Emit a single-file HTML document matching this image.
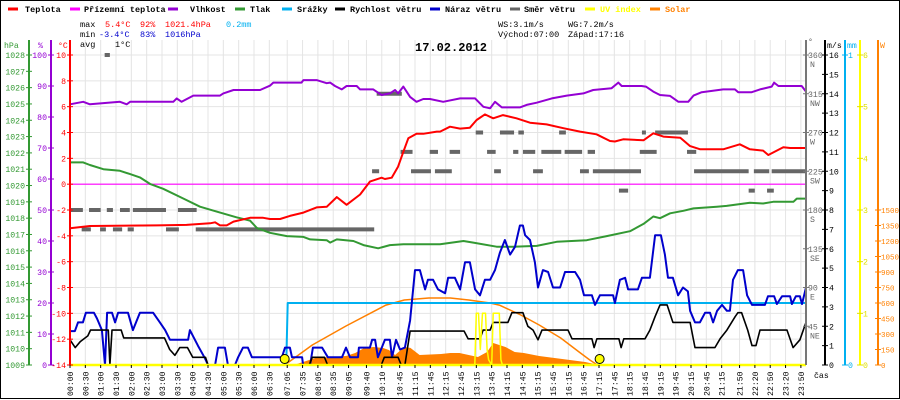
<!DOCTYPE html>
<html><head><meta charset="utf-8">
<style>
html,body{margin:0;padding:0;background:#fff;}
svg{display:block;font-family:"Liberation Mono",monospace;}
</style></head>
<body>
<svg id="chart" width="900" height="400" viewBox="0 0 900 400" xmlns="http://www.w3.org/2000/svg">
<rect x="0.5" y="0.5" width="899" height="398" fill="#fff" stroke="#000" stroke-width="1"/>
<g id="grid"></g>
<g id="series"></g>
<g id="axes"></g>
<g id="legend" font-size="8.5" font-weight="bold"></g>
<g id="stats" font-size="8.5">
<text x="80" y="27">max</text>
<text x="105" y="27" fill="#ff0000">5.4°C</text>
<text x="140" y="27" fill="#ff0000">92%</text>
<text x="165" y="27" fill="#ff0000">1021.4hPa</text>
<text x="226" y="27" fill="#00b0f0">0.2mm</text>
<text x="80" y="37">min</text>
<text x="99" y="37" fill="#0000cc">-3.4°C</text>
<text x="140" y="37" fill="#0000cc">83%</text>
<text x="165" y="37" fill="#0000cc">1016hPa</text>
<text x="80" y="47">avg</text>
<text x="115" y="47">1°C</text>
<text x="498" y="27">WS:3.1m/s</text>
<text x="568" y="27">WG:7.2m/s</text>
<text x="498" y="37">Východ:07:00</text>
<text x="568" y="37">Západ:17:16</text>
<text x="415" y="51" font-size="12" font-weight="bold">17.02.2012</text>
</g>
</svg>
<script>
// ---- data (time in hours) ----
const tempT=[0,0.65,2.83,3.8,4.57,4.73,4.89,5.11,5.33,5.87,6.3,6.52,6.85,7.17,7.61,8.04,8.37,8.7,9.02,9.46,9.78,10.16,10.27,10.49,10.7,10.87,11.03,11.3,11.52,11.96,12.07,12.39,12.72,13.04,13.26,13.53,13.8,14.12,14.56,15.0,15.54,16.09,16.63,17.17,17.61,17.77,18.04,18.7,19.02,19.35,19.9,20.22,20.55,21.3,21.84,22.17,22.6,22.77,23.26,23.48,24];
const tempV=[-3.42,-3.24,-3.19,-3.15,-3.03,-2.95,-3.19,-3.19,-2.9,-2.6,-2.6,-2.7,-2.7,-2.46,-2.2,-1.8,-1.75,-1.0,-1.6,-0.8,0.2,0.5,0.4,0.5,1.36,2.5,3.55,3.9,3.9,4.07,4.07,4.45,4.3,4.37,4.97,5.4,5.1,5.35,5.1,4.76,4.63,4.33,4.07,3.86,3.34,3.3,3.47,3.4,3.94,3.68,3.6,2.95,2.7,2.7,3.09,2.7,2.6,2.26,2.86,2.8,2.8];
const feelT=[0,24];
const feelV=[0,0];
const humT=[0,0.43,0.65,1.63,1.85,1.96,3.37,3.48,3.64,4.02,4.89,5.0,5.33,6.2,6.52,6.63,7.55,7.61,8.04,8.37,8.48,8.64,8.86,9.02,9.35,9.46,9.89,10.16,10.43,10.6,10.7,10.87,11.09,11.3,11.52,11.74,12.17,12.72,13.21,13.48,13.7,13.86,14.08,14.67,14.89,15.22,15.71,16.2,16.74,17.06,17.66,17.88,17.99,18.64,18.78,19.02,19.24,19.57,19.84,20.16,20.33,20.6,21.3,21.68,21.79,22.23,22.5,22.88,22.96,23.1,23.86,24];
const humV=[84.1,84.9,84.1,84.9,84.1,84.9,84.9,86.0,84.9,86.9,86.9,87.6,88.7,88.7,90.1,91.1,91.1,91.9,91.9,90.9,91.1,90.0,88.9,90.0,90.0,88.9,88.9,87.1,87.6,88.7,87.6,89.8,86.5,84.9,85.8,85.8,84.9,86.0,86.0,83.3,82.8,84.9,83.1,83.1,83.9,84.6,86.0,86.9,87.6,88.7,89.3,91.1,90.0,90.0,89.8,88.2,87.1,86.8,84.9,84.9,86.9,88.0,88.9,88.9,88.0,88.0,88.9,89.8,91.1,90.0,90.0,88.2];
const pressT=[0,0.43,0.65,1.09,1.63,1.96,2.28,2.61,3.04,3.7,4.24,4.78,5.43,5.87,6.09,6.52,7.07,7.61,7.83,8.37,8.48,8.7,9.24,9.57,10.05,10.43,10.87,12.07,12.83,13.15,13.91,14.45,15.22,15.87,16.85,17.5,18.26,18.7,19.02,19.24,19.57,20.0,20.33,21.09,21.41,22.17,22.6,22.93,23.59,23.7,24];
const pressV=[1021.42,1021.42,1021.26,1021.0,1020.9,1020.7,1020.5,1020.1,1019.8,1019.2,1018.7,1018.4,1018.05,1017.85,1017.4,1017.1,1016.9,1016.85,1016.7,1016.65,1016.5,1016.7,1016.6,1016.35,1016.15,1016.35,1016.4,1016.4,1016.6,1016.5,1016.25,1016.25,1016.3,1016.55,1016.65,1016.9,1017.2,1017.65,1018.1,1018.0,1018.3,1018.45,1018.6,1018.7,1018.75,1018.95,1018.9,1019.0,1019.0,1019.2,1019.2];
const rainT=[0,7.05,7.1,24];
const rainV=[0,0,0.2,0.2];
const windT=[0,0.17,0.33,0.58,0.67,1.25,1.3,1.37,1.67,1.75,3.08,3.25,3.42,3.58,3.83,4.0,4.42,4.5,7.8,7.9,8.3,8.4,10.15,10.25,10.7,10.8,10.92,11.09,12.85,12.98,13.37,13.47,13.7,13.8,14.28,14.41,14.77,14.93,15.1,15.26,15.39,16.24,16.37,17.02,17.09,17.18,17.9,17.97,18.06,18.75,18.91,19.08,19.24,19.47,19.66,20.22,20.38,21.03,21.2,21.42,21.69,21.78,21.9,22.1,22.24,22.37,22.5,23.38,23.58,23.8,24];
const windV=[1.3,0.9,1.2,1.5,1.8,1.8,0,1.8,1.8,1.4,1.4,0.8,0.5,0.9,0.9,0.4,0.4,0,0,0.4,0.4,0,0,0.4,0.4,0,0,1.75,1.75,1.35,1.35,1.8,1.8,2.2,2.2,2.7,2.7,2.0,1.8,1.3,1.8,1.8,1.35,1.35,0.9,1.35,1.35,0.9,1.35,1.35,1.8,2.5,3.1,3.1,2.2,2.2,0.9,0.9,1.35,1.8,2.5,2.7,2.7,1.8,1.0,1.0,1.8,1.8,0.9,1.3,2.2];
const gustT=[0,0.16,0.26,0.42,0.52,0.78,0.88,1.04,1.14,1.21,1.37,1.47,1.57,1.89,2.05,2.28,2.71,2.93,3.1,3.26,3.85,3.91,4.17,4.4,4.5,4.73,4.83,5.05,5.15,5.38,5.48,5.64,5.8,5.93,6.91,7.01,7.17,7.24,7.57,7.6,7.83,7.92,8.22,8.41,8.87,9.0,9.13,9.39,9.42,9.78,9.85,9.95,10.04,10.27,10.43,10.5,10.63,10.76,10.92,11.09,11.25,11.41,11.58,11.67,11.84,12.0,12.23,12.33,12.55,12.72,12.88,13.04,13.21,13.37,13.53,13.7,13.86,14.02,14.18,14.35,14.51,14.67,14.77,14.84,15.0,15.16,15.26,15.42,15.59,15.75,15.98,16.14,16.47,16.63,16.76,17.02,17.12,17.28,17.71,17.77,17.93,18.1,18.2,18.52,18.65,18.91,19.08,19.27,19.4,19.5,19.66,19.83,19.99,20.15,20.22,20.38,20.54,20.71,20.87,20.97,21.1,21.26,21.42,21.52,21.62,21.78,21.95,22.08,22.24,22.66,22.76,22.96,23.05,23.22,23.48,23.54,23.67,23.8,23.87,24];
const gustV=[1.75,1.75,2.2,2.2,2.7,2.7,2.4,1.8,0,2.7,2.7,2.2,2.7,2.7,1.8,2.7,2.7,2.2,1.8,1.3,1.3,1.8,1.0,0.35,0,0,0.9,0.9,0,0,0.4,0.9,0.9,0.4,0.4,0.9,0.9,0.4,0.4,0,0,0.9,0.9,0.4,0.4,0.9,0.4,0.4,0.9,0.9,1.3,1.3,0.4,1.3,1.3,0.4,1.3,0.8,0.9,2.3,4.9,4.9,3.9,4.4,4.4,3.9,3.7,4.5,4.5,3.9,5.3,5.3,3.9,3.6,4.4,4.4,4.9,5.8,6.45,5.7,6.1,7.2,7.2,6.7,6.45,5.3,4.0,4.9,4.8,4.0,4.0,4.8,4.8,4.4,3.6,3.6,3.1,3.6,3.6,3.2,4.4,4.5,3.9,3.9,4.5,4.5,6.7,6.7,5.7,4.5,4.5,3.6,4.0,3.8,2.8,2.2,2.2,2.7,2.7,2.2,2.8,3.1,2.8,2.8,4.4,4.9,4.9,3.6,3.1,3.1,3.55,3.55,3.15,3.55,3.55,3.15,3.55,3.55,3.15,4.0];
// direction segments: start hour, end hour, degrees
const dirStart=[0,0.62,1.2,1.63,2.05,3.52,0.38,0.98,1.4,1.88,3.13,4.1,1.13,10.0,10.78,11.73,12.38,13.6,14.45,14.77,15.37,16.13,16.88,18.58,20.12,9.85,11.12,11.9,13.83,15.1,16.63,17.05,20.35,22.3,22.88,13.23,14.02,14.62,15.95,18.65,19.08,17.9,22.13,22.73];
const dirEnd=[0.42,1.0,1.4,1.95,3.13,4.13,0.68,1.17,1.7,2.08,3.55,9.92,1.3,10.82,11.17,12.0,12.72,13.88,14.62,15.17,16.02,16.7,17.12,19.13,20.42,10.08,11.77,12.45,14.05,15.42,16.92,18.62,22.13,22.8,24.0,13.47,14.48,14.8,16.17,18.78,20.15,18.2,22.33,22.95];
const dirV=[180,180,180,180,180,180,157.5,157.5,157.5,157.5,157.5,157.5,360,315,247.5,247.5,247.5,247.5,247.5,247.5,247.5,247.5,247.5,247.5,247.5,225,225,225,225,225,225,225,225,225,225,270,270,270,270,270,270,202.5,202.5,202.5];
const solarT=[7.3,7.6,8.0,8.5,9.0,9.3,9.6,9.9,10.2,10.4,10.6,10.9,11.1,11.4,12.1,12.4,12.7,13.0,13.3,13.6,13.8,14.0,14.2,14.5,14.8,15.3,15.8,16.3,16.8,17.1,17.3];
const solarV=[0,29,68,77,87,116,165,174,165,145,97,174,165,97,106,116,116,97,77,126,213,194,174,126,116,87,68,48,29,10,0];
const solarMaxT=[7.0,7.9,9.0,10.3,10.9,11.7,12.4,13.0,13.7,14.0,14.7,15.3,16.0,16.6,16.95,17.2];
const solarMaxV=[0,194,377,580,629,648,648,629,600,580,484,387,261,126,48,0];
const uvT=[13.2,13.25,13.32,13.38,13.45,13.55,13.6,13.65,13.75,13.8,14.0,14.05,14.1];
const uvV=[0,1,1,0.3,1,1,0.3,0.1,0,1,1,0.1,0];
const sunT=[7.0,17.27];
const xLabels=["00:00","00:30","01:00","01:30","02:00","02:30","03:00","03:30","04:00","04:30","05:00","05:30","06:00","06:30","07:05","07:35","08:05","08:35","09:05","09:40","10:10","10:45","11:15","11:45","12:15","12:45","13:15","13:45","14:15","14:45","15:15","15:45","16:15","16:45","17:15","17:45","18:15","18:45","19:15","19:45","20:15","20:45","21:15","21:50","22:20","22:50","23:20","23:50"];
const hpaTicks=[1009,1010,1011,1012,1013,1014,1015,1016,1017,1018,1019,1020,1021,1022,1023,1024,1025,1026,1027,1028];
const humTicks=[0,10,20,30,40,50,60,70,80,90,100];
const tempTicks=[-14,-12,-10,-8,-6,-4,-2,0,2,4,6,8,10];
const dirTicks=[45,90,135,180,225,270,315,360];
const dirNames=["NE","E","SE","S","SW","W","NW","N"];
const msTicks=[0,1,2,3,4,5,6,7,8,9,10,11,12,13,14,15,16];
const mmTicks=[0,1];
const uvTicks=[0,1,2,3,4,5,6];
const wTicks=[0,150,300,450,600,750,900,1050,1200,1350,1500];

// ---- scales ----
const X0=70,X1=806,YB=365,YT=55;
const xOf=h=>X0+h*(X1-X0)/24;
const yTemp=t=>YT+(10-t)*(YB-YT)/24;
const yPress=p=>YT+(1028-p)*(YB-YT)/19;
const yHum=v=>YB-v*(YB-YT)/100;
const yWind=v=>YB-v*(YB-YT)/16;
const yDir=d=>YB-d*(YB-YT)/360;
const yRain=v=>YB-v*(YB-YT)/1;
const yUV=v=>YB-v*(YB-YT)/6;
const ySol=v=>YB-v*155/1500;

const NS="http://www.w3.org/2000/svg";
function mk(tag,parent,attrs){const e=document.createElementNS(NS,tag);for(const k in attrs)e.setAttribute(k,attrs[k]);parent.appendChild(e);return e;}
const G=document.getElementById('grid'),S=document.getElementById('series'),A=document.getElementById('axes'),L=document.getElementById('legend');
const toH=s=>{const p=s.split(':');return +p[0]+(+p[1])/60;};

// grid
tempTicks.forEach(t=>{const l=mk('line',G,{x1:X0,x2:X1,y1:yTemp(t),y2:yTemp(t),stroke:'#e4e4e4','stroke-width':1});

});
xLabels.forEach(s=>{const x=xOf(toH(s));const l=mk('line',G,{x1:x,x2:x,y1:40,y2:YB,stroke:'#e4e4e4','stroke-width':1});

});

function poly(T,V,yf,color,w,name){const pts=T.map((t,i)=>xOf(t).toFixed(1)+','+yf(V[i]).toFixed(1)).join(' ');
const p=mk('polyline',S,{points:pts,fill:'none',stroke:color,'stroke-width':w,'stroke-linejoin':'round'});

return p;}

// solar area
{const pts=[xOf(solarT[0])+','+YB].concat(solarT.map((t,i)=>xOf(t).toFixed(1)+','+ySol(solarV[i]).toFixed(1))).concat([xOf(solarT[solarT.length-1])+','+YB]).join(' ');
const p=mk('polygon',S,{points:pts,fill:'#ff8000',stroke:'none'});

}
poly(solarMaxT,solarMaxV,ySol,'#ff8000',1.5,'solar-max-line');
// direction
dirV.forEach((d,i)=>{const r=mk('rect',S,{x:xOf(dirStart[i]),y:yDir(d)-2,width:Math.max(3,xOf(dirEnd[i])-xOf(dirStart[i])),height:4,fill:'#666'});

});
poly(feelT,feelV,yTemp,'#ff00ff',1.2,'apparent-temperature-line');
poly(pressT,pressV,yPress,'#339933',2,'pressure-line');
poly(humT,humV,yHum,'#9400d3',2,'humidity-line');
poly(tempT,tempV,yTemp,'#ff0000',2,'temperature-line');
poly(rainT,rainV,yRain,'#00b0f0',2,'rain-line');
poly(gustT,gustV,yWind,'#0000cc',2,'wind-gust-line');
poly(windT,windV,yWind,'#000',1.6,'wind-speed-line');
poly(uvT,uvV,yUV,'#ffff00',1.5,'uv-index-line');
{const b=mk('line',S,{x1:X0,x2:X1,y1:YB,y2:YB,stroke:'#ffff00','stroke-width':2.5});

}
sunT.forEach((t,i)=>{const c=mk('circle',S,{cx:xOf(t),cy:YB-6,r:4.5,fill:'#ffff00',stroke:'#000','stroke-width':1});

});

// axes
const FS=8.2;
function vaxis(x,y1,color,name){const l=mk('line',A,{x1:x,x2:x,y1:y1,y2:YB,stroke:color,'stroke-width':2});

}
function tick(x,y,color){mk('line',A,{x1:x-3,x2:x+3,y1:y,y2:y,stroke:color,'stroke-width':1});}
function label(txt,x,y,color,anchor,name){const t=mk('text',A,{x:x,y:y,fill:color,'font-size':FS,'text-anchor':anchor});t.textContent=txt;

return t;}
vaxis(29,40,'#339933','pressure-axis');
vaxis(51,40,'#9400d3','humidity-axis');
vaxis(70,40,'#ff0000','temperature-axis');
vaxis(806,40,'#777','direction-axis');
vaxis(825,40,'#000','wind-axis');
vaxis(845,40,'#00b0f0','rain-axis');
vaxis(860,40,'#ffff00','uv-axis');
vaxis(878,40,'#ff8000','solar-axis');
label('hPa',4,48,'#339933','start','pressure-axis-title');
label('%',38,48,'#9400d3','start','humidity-axis-title');
label('°C',58,48,'#ff0000','start','temperature-axis-title');
label('°',808,44,'#555','start','direction-axis-title');
label('m/s',827,48,'#000','start','wind-axis-title');
label('mm',847,48,'#00b0f0','start','rain-axis-title');
label('W',880,48,'#ff8000','start','solar-axis-title');
label('čas',814,378,'#000','start','x-axis-title');
hpaTicks.forEach(v=>{tick(29,yPress(v),'#339933');label(String(v),25,yPress(v)+3,'#339933','end','pressure-tick-label');});
humTicks.forEach(v=>{tick(51,yHum(v),'#9400d3');label(String(v),47,yHum(v)+3,'#9400d3','end','humidity-tick-label');});
tempTicks.forEach(v=>{tick(70,yTemp(v),'#ff0000');label(String(v),66,yTemp(v)+3,'#ff0000','end','temperature-tick-label');});
dirTicks.forEach((v,i)=>{tick(806,yDir(v),'#777');label(String(v),808,yDir(v)+3,'#666','start','direction-tick-label');label(dirNames[i],810,yDir(v)+12,'#666','start','direction-name-label');});
msTicks.forEach(v=>{tick(825,yWind(v),'#000');label(String(v),829,yWind(v)+3,'#000','start','wind-tick-label');});
mmTicks.forEach(v=>{tick(845,yRain(v),'#00b0f0');label(String(v),848,yRain(v)+3,'#00b0f0','start','rain-tick-label');});
uvTicks.forEach(v=>{tick(860,yUV(v),'#e0e000');label(String(v),863,yUV(v)+3,'#e0e000','start','uv-tick-label');});
wTicks.forEach(v=>{tick(878,ySol(v),'#ff8000');const t=label(String(v),881,ySol(v)+3,'#ff8000','start','solar-tick-label');t.setAttribute('font-size','7.5');});
xLabels.forEach(s=>{const x=xOf(toH(s));mk('line',A,{x1:x,x2:x,y1:YB,y2:YB+3,stroke:'#000'});
const t=mk('text',A,{transform:'translate('+(x+3)+',396) rotate(-90)','font-size':FS,fill:'#000'});t.textContent=s;

});

// legend
const legNames=['Teplota','Přízemní teplota','Vlhkost','Tlak','Srážky','Rychlost větru','Náraz větru','Směr větru','UV index','Solar'];
const legColors=['#ff0000','#ff00ff','#9400d3','#339933','#00b0f0','#000','#0000cc','#666','#ffff00','#ff8000'];
const legLineX=[8,70,168,235,282,335,430,510,585,650];
const legTextX=[25,84,190,250,297,350,445,524,600,665];
legNames.forEach((n,i)=>{const g=mk('g',L,{});


mk('line',g,{x1:legLineX[i],x2:legLineX[i]+10,y1:9,y2:9,stroke:legColors[i],'stroke-width':3});
const t=mk('text',g,{x:legTextX[i],y:12,fill:(i>=8?legColors[i]:'#000')});t.textContent=n;});
</script>
</body></html>
